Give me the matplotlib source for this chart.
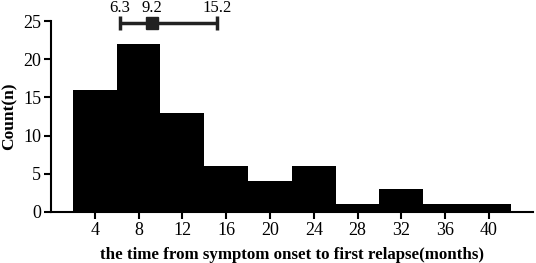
import matplotlib.pyplot as plt
import numpy as np

bin_edges = [2, 6, 10, 14, 18, 22, 26, 30, 34, 38, 42]
counts = [16, 22, 13, 6, 4, 6, 1, 3, 1, 1]
iqr_low, median, iqr_high = 6.3, 9.2, 15.2

plt.rcParams['font.family'] = ['Liberation Serif', 'DejaVu Serif']

fig = plt.figure(figsize=(5.36, 2.63), dpi=100)
ax = fig.add_axes([0.095, 0.194, 0.899, 0.726])

edges = np.array(bin_edges)
ax.bar(edges[:-1], counts, width=np.diff(edges), align='edge', color='black', linewidth=0)

# median with interquartile range above the bars
y_err = 24.7
ax.errorbar([median], [y_err], xerr=[[median - iqr_low], [iqr_high - median]],
            fmt='s', color='#222222', ms=9, elinewidth=2.5, capsize=5, capthick=2.5, clip_on=False)
for v in [iqr_low, median, iqr_high]:
    ax.text(v, y_err + 0.9, f"{v}", ha='center', va='bottom', fontsize=12)

ax.set_xlim(0, 44)
ax.set_ylim(0, 25)
ax.set_xticks(range(4, 41, 4))
ax.set_yticks(range(0, 26, 5))
ax.spines['top'].set_visible(False)
ax.spines['right'].set_visible(False)
for s in ['left', 'bottom']:
    ax.spines[s].set_linewidth(1.5)
ax.tick_params(width=1.5, length=5, labelsize=13, pad=2)

ax.set_xlabel("the time from symptom onset to first relapse(months)", fontsize=12.2, fontweight='bold', labelpad=6)
ax.set_ylabel("Count(n)", fontsize=12.5, fontweight='bold')

fig.savefig("out.png", dpi=100)
